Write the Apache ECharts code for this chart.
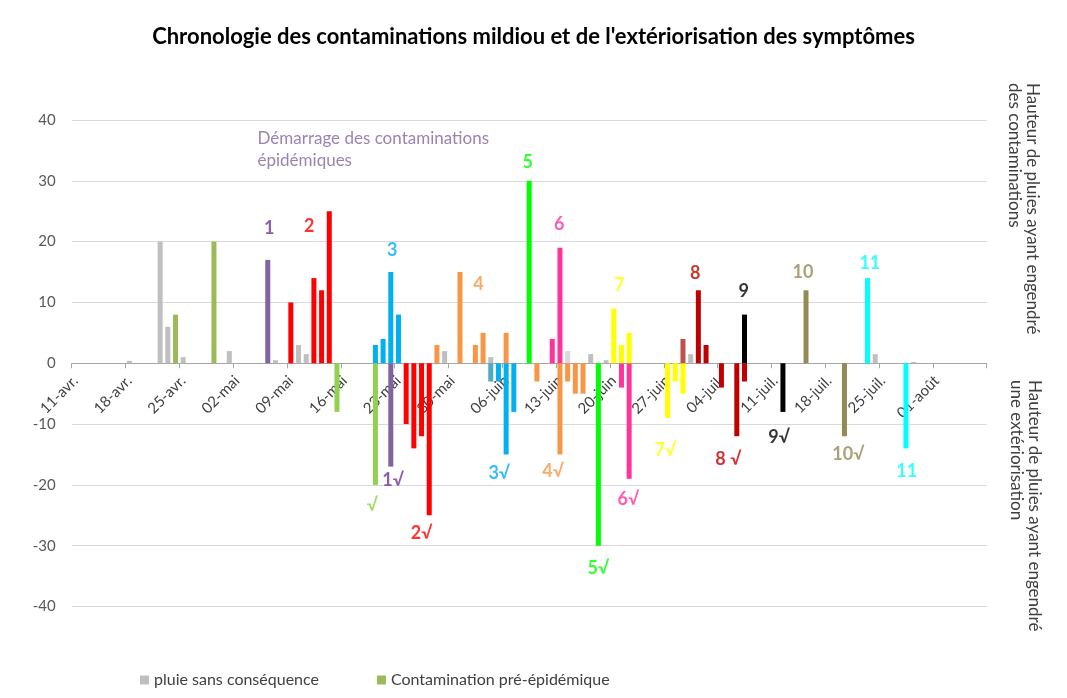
<!DOCTYPE html>
<html><head><meta charset="utf-8">
<script src="https://cdn.jsdelivr.net/npm/echarts@6/dist/echarts.min.js"></script>
<style>html,body{margin:0;padding:0;background:#fff}#c{width:1067px;height:698px}</style>
</head><body><div id="c"></div>
<script>
// ---- categories: daily, 11-avr. to 07-août ----
const monthNames = ['avr.', 'mai', 'juin', 'juil.', 'août'];
const monthLengths = [30, 31, 30, 31, 31];
const firstDay = 11;
const dayCount = 119;
const categories = [];
(function () {
  let m = 0, d = firstDay;
  for (let i = 0; i < dayCount; i++) {
    categories.push((d < 10 ? '0' + d : '' + d) + '-' + monthNames[m]);
    d++;
    if (d > monthLengths[m]) { d = 1; m++; }
  }
})();

// ---- y axis ----
const yMin = -40, yMax = 40, yStep = 10;

// ---- series values: [day index from 11-avr., rain height] ----
const pluieSansConsequence = [[7,0.4],[11,20],[12,6],[14,1],[20,2],[26,0.5],[29,3],[30,1.5],[48,2],[54,1],[67,1.5],[69,0.5],[80,1.5],[104,1.5],[109,0.2]];
const pluieClaire = [[64,2]];
const contaminationPreEpidemique = [[13,8],[18,20],[34,-8],[39,-20]];
const cont1 = [[25,17],[41,-17]];
const cont2 = [[28,10],[31,14],[32,12],[33,25],[43,-10],[44,-14],[45,-12],[46,-25]];
const cont3 = [[39,3],[40,4],[41,15],[42,8],[55,-3],[56,-15],[57,-8]];
const cont3b = [[54,-3]];
const cont4 = [[47,3],[50,15],[52,3],[53,5],[56,5],[60,-3],[63,-15],[64,-3],[65,-5],[66,-5]];
const cont5 = [[59,30],[68,-30]];
const cont6 = [[62,4],[63,19],[71,-4],[72,-19]];
const cont7 = [[70,9],[71,3],[72,5],[77,-9],[78,-3],[79,-5]];
const cont8b = [[79,4]];
const cont8 = [[81,12],[82,3],[84,-4],[86,-12],[87,-3]];
const cont9 = [[87,8],[92,-8]];
const cont10 = [[95,12],[100,-12]];
const cont11 = [[103,14],[108,-14]];

// ---- annotation texts: [text, day position, height, colour] ----
const annotations = [
  ['1', 25.2, 22.2, '#7030a0'], ['2', 30.4, 22.6, '#ff0000'], ['3', 41.2, 18.6, '#00b0f0'],
  ['4', 52.4, 13.0, '#f79646'], ['5', 58.8, 33.0, '#00ff00'], ['6', 62.9, 22.8, '#ff3399'],
  ['7', 70.7, 12.8, '#ffff00'], ['8', 80.6, 14.8, '#c00000'], ['9', 86.9, 11.9, '#000000'],
  ['10', 94.6, 15.0, '#948a54'], ['11', 103.3, 16.5, '#00ffff'],
  ['√', 38.6, -23.4, '#92d050'], ['1√', 41.3, -19.2, '#7030a0'], ['2√', 45.0, -28.0, '#ff0000'],
  ['3√', 55.1, -18.1, '#00b0f0'], ['4√', 62.1, -17.7, '#f79646'], ['5√', 68.0, -33.7, '#00ff00'],
  ['6√', 71.9, -22.4, '#ff3399'], ['7√', 76.7, -14.3, '#ffff00'], ['8 √', 84.9, -15.8, '#c00000'],
  ['9√', 91.5, -12.2, '#000000'], ['10√', 100.5, -14.9, '#948a54'], ['11', 108.1, -17.8, '#00ffff']
];
const startNote = ['Démarrage des contaminations\népidémiques', 23.6, 35.1, '#8064a2'];

const FONT = 'Lato, "DejaVu Sans", sans-serif';

function barSeries(name, data, color) {
  return {
    name: name, type: 'bar', data: data, barWidth: 5, barGap: '-100%',
    itemStyle: { color: color }, silent: true, animation: false
  };
}

const series = [
  barSeries('pluie sans conséquence', pluieSansConsequence, '#bfbfbf'),
  barSeries('pluie claire', pluieClaire, '#d9d9d9'),
  {
    name: 'Contamination pré-épidémique', type: 'bar', barWidth: 5, barGap: '-100%',
    itemStyle: { color: '#9bbb59' }, silent: true, animation: false,
    data: contaminationPreEpidemique.map(p => p[1] < 0 ? { value: p, itemStyle: { color: '#92d050' } } : { value: p })
  },
  barSeries('c1', cont1, '#8064a2'),
  barSeries('c2', cont2, '#ff0000'),
  barSeries('c3', cont3, '#00b0f0'),
  barSeries('c3b', cont3b, '#4bacc6'),
  barSeries('c4', cont4, '#f79646'),
  barSeries('c5', cont5, '#00ff00'),
  barSeries('c6', cont6, '#ff3399'),
  barSeries('c7', cont7, '#ffff00'),
  barSeries('c8b', cont8b, '#c0504d'),
  barSeries('c8', cont8, '#c00000'),
  barSeries('c9', cont9, '#000000'),
  barSeries('c10', cont10, '#948a54'),
  barSeries('c11', cont11, '#00ffff'),
  {
    name: 'annotations', type: 'scatter', xAxisIndex: 1, yAxisIndex: 0,
    symbolSize: 1, itemStyle: { color: 'transparent' }, silent: true, animation: false,
    data: annotations.map(a => ({
      value: [a[1], a[2]], name: a[0],
      label: { show: true, position: 'inside', formatter: a[0], color: a[3],
               fontFamily: FONT, fontWeight: 'bold', fontSize: 18 }
    })).concat([{
      value: [startNote[1], startNote[2]], name: 'note',
      label: { show: true, position: 'right', distance: 0, formatter: startNote[0], color: startNote[3],
               fontFamily: FONT, fontSize: 17, lineHeight: 22, align: 'left', verticalAlign: 'middle' }
    }])
  }
];

const gridTop = 120, gridBottom = 91.5, chartHeight = 698;
const plotHeight = chartHeight - gridTop - gridBottom;
const zeroOffset = -plotHeight * (0 - yMin) / (yMax - yMin);

const chart = echarts.init(document.getElementById('c'), null, { renderer: 'canvas' });
chart.setOption({
  animation: false,
  backgroundColor: '#ffffff',
  textStyle: { fontFamily: FONT },
  title: {
    text: "Chronologie des contaminations mildiou et de l'extériorisation des symptômes",
    left: 'center', top: 26, padding: 0,
    textStyle: { fontFamily: FONT, fontWeight: 'bold', fontSize: 22, color: '#000000' }
  },
  legend: {
    data: ['pluie sans conséquence', 'Contamination pré-épidémique'],
    left: 140, top: 672, padding: 0, icon: 'rect', itemWidth: 9, itemHeight: 9, itemGap: 58,
    textStyle: { fontFamily: FONT, fontSize: 16, color: '#404040' },
    selectedMode: false
  },
  grid: { left: 71.7, right: 80.3, top: gridTop, bottom: gridBottom, containLabel: false },
  xAxis: [{
    type: 'category', data: categories, boundaryGap: true, position: 'bottom', offset: zeroOffset,
    axisLine: { onZero: false, lineStyle: { color: '#a6a6a6', width: 1 } },
    axisTick: { show: true, interval: 6, alignWithLabel: false, length: 5, lineStyle: { color: '#a6a6a6' } },
    axisLabel: { interval: 6, rotate: 45, margin: 15, fontSize: 15, color: '#404040', fontFamily: FONT },
    splitLine: { show: false }
  }, {
    type: 'value', min: -0.5, max: dayCount - 0.5, show: false
  }],
  yAxis: {
    type: 'value', min: yMin, max: yMax, interval: yStep,
    axisLine: { show: false }, axisTick: { show: false },
    axisLabel: { margin: 16, fontSize: 15, color: '#595959', fontFamily: FONT },
    splitLine: { lineStyle: { color: '#d9d9d9', width: 1 } }
  },
  graphic: [
    { type: 'text', x: 1041, y: 83, rotation: -Math.PI / 2,
      style: { text: 'Hauteur de pluies ayant engendré\ndes contaminations', fill: '#404040',
               font: '17px ' + FONT, lineHeight: 18, textAlign: 'left', textVerticalAlign: 'top' } },
    { type: 'text', x: 1043, y: 380, rotation: -Math.PI / 2,
      style: { text: 'Hauteur de pluies ayant engendré\nune extériorisation', fill: '#404040',
               font: '17px ' + FONT, lineHeight: 18, textAlign: 'left', textVerticalAlign: 'top' } }
  ],
  series: series
});
</script>
</body></html>
